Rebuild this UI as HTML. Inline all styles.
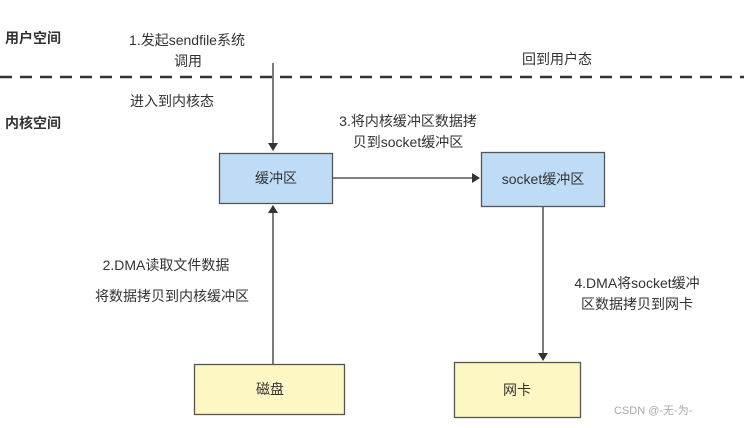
<!DOCTYPE html><html><head><style>body{margin:0;background:#fff}svg text{font-family:"Liberation Sans","Noto Sans CJK SC",sans-serif;fill:#333}</style></head><body>
<svg width="744" height="423" xmlns="http://www.w3.org/2000/svg">
<defs><marker id="a" markerWidth="8" markerHeight="10" refX="7" refY="5" orient="auto" markerUnits="userSpaceOnUse"><path d="M0,0L8,5L0,10z" fill="#333"/></marker></defs>
<text x="5" y="43" font-size="14" font-weight="bold">用户空间</text>
<text x="5" y="128" font-size="14" font-weight="bold">内核空间</text>
<line x1="0" y1="77" x2="744" y2="77" stroke="#333" stroke-width="2.5" stroke-dasharray="12,8"/>
<text x="187" y="45" font-size="14" text-anchor="middle">1.发起sendfile系统</text>
<text x="188" y="66" font-size="14" text-anchor="middle">调用</text>
<text x="172" y="106" font-size="14" text-anchor="middle">进入到内核态</text>
<text x="557" y="64" font-size="14" text-anchor="middle">回到用户态</text>
<text x="408" y="126" font-size="14" text-anchor="middle">3.将内核缓冲区数据拷</text>
<text x="408" y="147" font-size="14" text-anchor="middle">贝到socket缓冲区</text>
<text x="166" y="270" font-size="14" text-anchor="middle">2.DMA读取文件数据</text>
<text x="172" y="301" font-size="14" text-anchor="middle">将数据拷贝到内核缓冲区</text>
<text x="637" y="288" font-size="14" text-anchor="middle">4.DMA将socket缓冲</text>
<text x="637" y="309" font-size="14" text-anchor="middle">区数据拷贝到网卡</text>
<line x1="273" y1="63" x2="273" y2="150" stroke="#333" stroke-width="1.3" marker-end="url(#a)"/>
<line x1="273" y1="364" x2="273" y2="206" stroke="#333" stroke-width="1.3" marker-end="url(#a)"/>
<line x1="333" y1="178" x2="479" y2="178" stroke="#333" stroke-width="1.3" marker-end="url(#a)"/>
<line x1="543" y1="207" x2="543" y2="360" stroke="#333" stroke-width="1.3" marker-end="url(#a)"/>
<rect x="219.5" y="153.5" width="113" height="50" fill="#bfdcf7" stroke="#555" stroke-width="1.3"/>
<text x="276" y="183" font-size="14" text-anchor="middle">缓冲区</text>
<rect x="481.5" y="152.5" width="123" height="54" fill="#bfdcf7" stroke="#555" stroke-width="1.3"/>
<text x="543" y="184" font-size="14" text-anchor="middle">socket缓冲区</text>
<rect x="194.5" y="364.5" width="150" height="50" fill="#fdf7c4" stroke="#555" stroke-width="1.3"/>
<text x="270" y="394" font-size="14" text-anchor="middle">磁盘</text>
<rect x="454.5" y="362.5" width="126" height="55" fill="#fdf7c4" stroke="#555" stroke-width="1.3"/>
<text x="517" y="395" font-size="14" text-anchor="middle">网卡</text>
<text x="614" y="414" font-size="11" fill="#aaa" style="fill:#aaa">CSDN @-无-为-</text>
</svg></body></html>
